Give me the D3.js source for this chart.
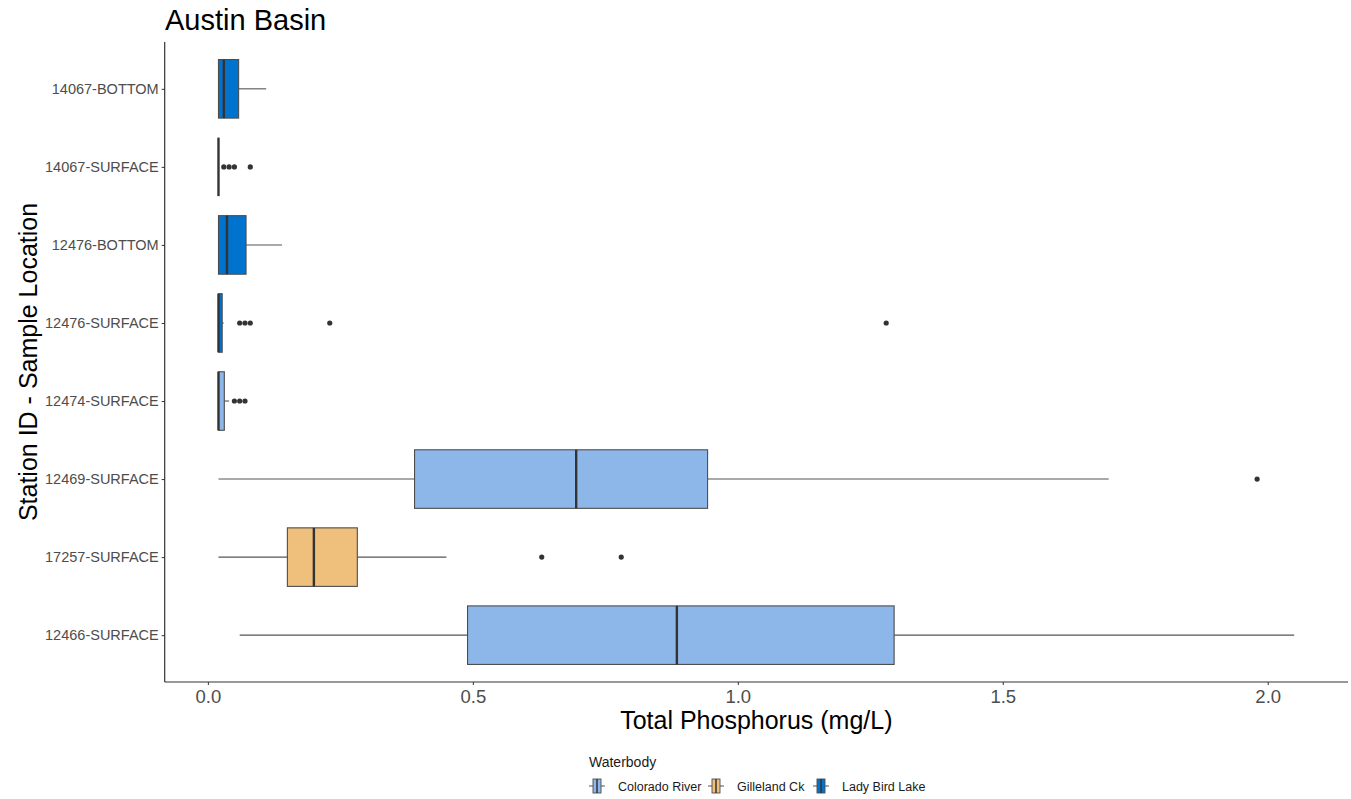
<!DOCTYPE html>
<html>
<head>
<meta charset="utf-8">
<script src="https://cdn.jsdelivr.net/npm/d3@7"></script>
<style>
  html, body { margin: 0; padding: 0; background: #ffffff; }
  svg { display: block; font-family: "Liberation Sans", Arial, sans-serif; }
</style>
</head>
<body>
<script>
// ---- Data ----
const categories = ["14067-BOTTOM", "14067-SURFACE", "12476-BOTTOM", "12476-SURFACE",
                    "12474-SURFACE", "12469-SURFACE", "17257-SURFACE", "12466-SURFACE"];
const waterbody = ["Lady Bird Lake", "Lady Bird Lake", "Lady Bird Lake", "Lady Bird Lake",
                   "Colorado River", "Colorado River", "Gilleland Ck", "Colorado River"];
const whiskerLow  = [0.02, 0.02, 0.02, 0.02, 0.02, 0.02, 0.02, 0.06];
const q1          = [0.02, 0.02, 0.02, 0.02, 0.02, 0.39, 0.15, 0.49];
const median      = [0.03, 0.02, 0.036, 0.02, 0.02, 0.695, 0.20, 0.885];
const q3          = [0.058, 0.02, 0.072, 0.027, 0.031, 0.943, 0.282, 1.295];
const whiskerHigh = [0.11, 0.02, 0.14, 0.03, 0.04, 1.70, 0.45, 2.05];
const outliers    = [[], [0.03, 0.04, 0.05, 0.08], [], [0.06, 0.07, 0.08, 0.23, 1.28],
                     [0.05, 0.06, 0.07], [1.98], [0.63, 0.78], []];
const xTicks = [0.0, 0.5, 1.0, 1.5, 2.0];
const legendKeys = ["Colorado River", "Gilleland Ck", "Lady Bird Lake"];
const legendColors = ["#8db7e9", "#efbf7c", "#0073cf"];

// ---- Layout ----
const W = 1351, H = 799;
const panel = { left: 164.7, right: 1348, top: 42, bottom: 682 };
const FONT = "'Liberation Sans', Arial, sans-serif";

const svg = d3.select("body").append("svg").attr("width", W).attr("height", H);

const allVals = whiskerLow.concat(whiskerHigh, outliers.flat());
const dmin = d3.min(allVals), dmax = d3.max(allVals);
const pad = (dmax - dmin) * 0.05;
const x = d3.scaleLinear().domain([dmin - pad, dmax + pad]).range([panel.left, panel.right]);
const y = d3.scalePoint().domain(categories).range([panel.top, panel.bottom]).padding(0.6);
const color = d3.scaleOrdinal().domain(legendKeys).range(legendColors);
const half = y.step() * 0.375;

const g = svg.append("g");

categories.forEach((c, i) => {
  const cy = y(c);
  if (whiskerLow[i] < q1[i]) {
    g.append("line").attr("x1", x(whiskerLow[i])).attr("x2", x(q1[i]))
      .attr("y1", cy).attr("y2", cy).attr("stroke", "#555").attr("stroke-width", 1.1);
  }
  if (whiskerHigh[i] > q3[i]) {
    g.append("line").attr("x1", x(q3[i])).attr("x2", x(whiskerHigh[i]))
      .attr("y1", cy).attr("y2", cy).attr("stroke", "#555").attr("stroke-width", 1.1);
  }
  g.append("rect").attr("x", x(q1[i])).attr("y", cy - half)
    .attr("width", Math.max(0, x(q3[i]) - x(q1[i]))).attr("height", half * 2)
    .attr("fill", color(waterbody[i])).attr("stroke", "#4d4d4d").attr("stroke-width", 1.1);
  g.append("line").attr("x1", x(median[i])).attr("x2", x(median[i]))
    .attr("y1", cy - half).attr("y2", cy + half)
    .attr("stroke", "#333").attr("stroke-width", 2.4);
  outliers[i].forEach(v => {
    g.append("circle").attr("cx", x(v)).attr("cy", cy).attr("r", 2.6).attr("fill", "#333");
  });
});

// ---- Axes ----
const xAxis = svg.append("g").attr("transform", `translate(0,${panel.bottom})`)
  .call(d3.axisBottom(x).tickValues(xTicks).tickFormat(d3.format(".1f")).tickSize(3).tickPadding(5));
xAxis.select(".domain").attr("stroke", "#333").attr("stroke-width", 1.2)
  .attr("d", `M${panel.left},0H${panel.right}`);
xAxis.selectAll(".tick line").attr("stroke", "#333");
xAxis.selectAll(".tick text").attr("fill", "#4d4d4d").attr("font-size", 18.5).attr("font-family", FONT);

const yAxis = svg.append("g").attr("transform", `translate(${panel.left},0)`)
  .call(d3.axisLeft(y).tickSize(3).tickPadding(3));
yAxis.select(".domain").attr("stroke", "#333").attr("stroke-width", 1.2)
  .attr("d", `M0,${panel.top}V${panel.bottom}`);
yAxis.selectAll(".tick line").attr("stroke", "#333");
yAxis.selectAll(".tick text").attr("fill", "#4d4d4d").attr("font-size", 14.5).attr("font-family", FONT);

// ---- Titles ----
svg.append("text").attr("x", 165).attr("y", 30).attr("font-size", 29).attr("fill", "#000")
  .text("Austin Basin");
svg.append("text").attr("x", (panel.left + panel.right) / 2).attr("y", 729)
  .attr("text-anchor", "middle").attr("font-size", 25).attr("fill", "#000")
  .text("Total Phosphorus (mg/L)");
svg.append("text").attr("transform", `translate(37,${(panel.top + panel.bottom) / 2}) rotate(-90)`)
  .attr("text-anchor", "middle").attr("font-size", 25).attr("fill", "#000")
  .text("Station ID - Sample Location");

// ---- Legend ----
const lg = svg.append("g").attr("transform", "translate(589,0)");
lg.append("text").attr("x", 0).attr("y", 767).attr("font-size", 14).attr("fill", "#1a1a1a").text("Waterbody");
const keyX = [0, 119, 224];
legendKeys.forEach((k, i) => {
  const kg = lg.append("g").attr("transform", `translate(${keyX[i]},779)`);
  kg.append("line").attr("x1", 0).attr("x2", 4).attr("y1", 7).attr("y2", 7)
    .attr("stroke", "#555").attr("stroke-width", 1);
  kg.append("line").attr("x1", 12).attr("x2", 16).attr("y1", 7).attr("y2", 7)
    .attr("stroke", "#555").attr("stroke-width", 1);
  kg.append("rect").attr("x", 4).attr("y", 0).attr("width", 8).attr("height", 14)
    .attr("fill", legendColors[i]).attr("stroke", "#4d4d4d").attr("stroke-width", 0.9);
  kg.append("line").attr("x1", 8).attr("x2", 8).attr("y1", 0).attr("y2", 14)
    .attr("stroke", "#333").attr("stroke-width", 1.5);
  kg.append("text").attr("x", 29).attr("y", 12).attr("font-size", 12.5).attr("fill", "#1a1a1a").text(k);
});
</script>
</body>
</html>
